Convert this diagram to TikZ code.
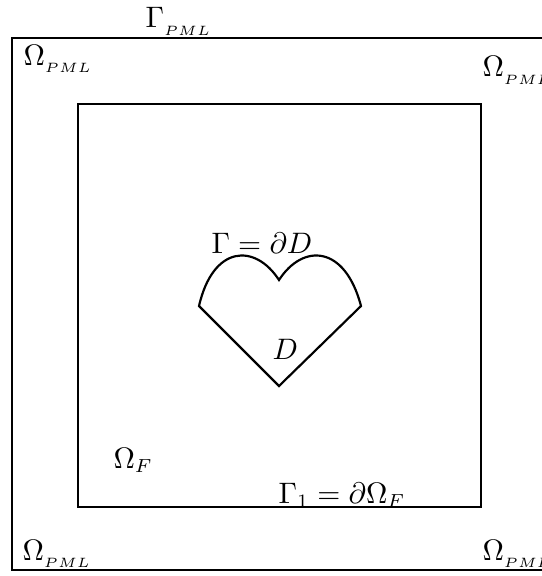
\documentclass[tikz,border=0pt]{standalone}
\usepackage{amsmath,amssymb}
\usetikzlibrary{positioning,calc}

\begin{document}
\begin{tikzpicture}[x=0.013cm, y=-0.013cm,
  boundary/.style={draw, line width=0.8pt},
  lbl/.style={anchor=base west, inner sep=0pt, font=\fontsize{10.5}{12}\selectfont},
]
  \useasboundingbox (0,0) rectangle (542,576);

  % Outer (PML) and inner (fluid) boxes
  \coordinate (outerNW) at (12,38);
  \coordinate (outerSE) at (544,570);
  \coordinate (innerNW) at (78,104);
  \coordinate (innerSE) at (481,507);
  \draw[boundary] (outerNW) rectangle (outerSE);
  \draw[boundary] (innerNW) rectangle (innerSE);

  % Scatterer D
  \coordinate (hl) at (199,306);
  \coordinate (hdip) at (279,280);
  \coordinate (hr) at (361,306);
  \coordinate (hbot) at (279,386);
  \draw[boundary, line join=miter]
    (hl) .. controls (213,245) and (255,243) .. (hdip)
         .. controls (303,243) and (345,245) .. (hr)
    -- (hbot) -- cycle;

  % Labels
  \node[lbl] (gpml) at (145,28)  {$\Gamma_{_{PML}}$};
  \node[lbl] (onw)  at (23,65)   {$\Omega_{_{PML}}$};
  \node[lbl] (one)  at (482,77)  {$\Omega_{_{PML}}$};
  \node[lbl] (osw)  at (22,560)  {$\Omega_{_{PML}}$};
  \node[lbl] (ose)  at (482,560) {$\Omega_{_{PML}}$};
  \node[lbl] (gam)  at (211,253) {$\Gamma=\partial D$};
  \node[lbl] (dlbl) at (272,359) {$D$};
  \node[lbl] (ofl)  at (113,468) {$\Omega_F$};
  \node[lbl] (gone) at (278,503) {$\Gamma_1=\partial\Omega_F$};

\end{tikzpicture}
\end{document}
